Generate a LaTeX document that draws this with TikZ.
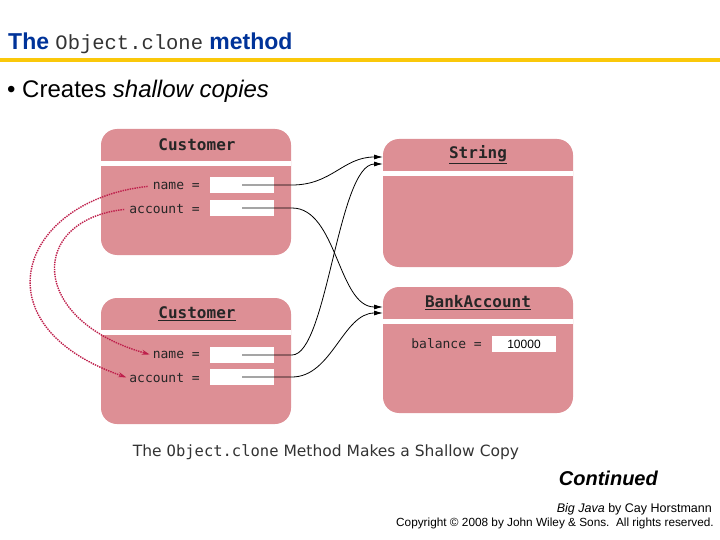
\documentclass[tikz,border=0pt]{standalone}
\usepackage{fontspec}
\setmainfont{Liberation Sans}
\setmonofont{Liberation Mono}
\newfontfamily\boxfont{DejaVu Sans Mono}
\newfontfamily\capfont{DejaVu Sans}
\usetikzlibrary{arrows.meta}
\definecolor{titleblue}{RGB}{0,51,153}
\definecolor{rulegold}{RGB}{250,200,10}
\definecolor{objpink}{RGB}{221,143,149}
\definecolor{refred}{RGB}{190,30,75}

\tikzset{
  hdr/.style={font=\boxfont\bfseries\fontsize{16}{16}\selectfont, text=black!85},
  fld/.style={font=\boxfont\fontsize{13}{13}\selectfont, anchor=east, inner sep=1pt, text=black!85},
  slot/.style={fill=white, minimum width=64pt, minimum height=16pt, inner sep=0pt},
  ptr/.style={black, line width=0.8pt, -{Latex[length=9pt,width=5pt]}},
  copyref/.style={refred, line width=1.4pt, densely dotted, -{Stealth[length=8pt,width=5pt]}},
}

\begin{document}
\begin{tikzpicture}[x=1pt,y=-1pt]
\useasboundingbox (0,0) rectangle (720,540);
% heading and rule
\node[anchor=base west, inner sep=0pt, text=titleblue, font=\bfseries\fontsize{23}{23}\selectfont] (title) at (8,50)
  {The {\mdseries\ttfamily\color{black!80}\fontsize{20.5}{20.5}\selectfont Object.clone} method};
\draw[rulegold, line width=4pt] (0,60) -- (720,60);
\node[anchor=base west, inner sep=0pt, font=\fontsize{24}{24}\selectfont] (point) at (7,98)
  {\textbullet\ Creates \textit{shallow copies}};

% the four objects
\foreach \bx/\by/\bh in {101/129/126,101/298/126,383/139/128,383/287/126}{
  \fill[objpink, rounded corners=16pt] (\bx,\by) rectangle (\bx+190,\by+\bh);
  \fill[white] (\bx,\by+32) rectangle (\bx+190,\by+37);
}
\node[hdr] (cust1) at (197,145) {Customer};
\node[hdr] (cust2) at (197,314) {\underline{Customer}};
\node[hdr] (str) at (478,155) {\underline{String}};
\node[hdr] (bank) at (478,303) {\underline{BankAccount}};

% fields
\node[fld] (name1) at (201,186) {name =};
\node[fld] (acct1) at (201,209) {account =};
\node[fld] (name2) at (201,355) {name =};
\node[fld] (acct2) at (201,378) {account =};
\node[fld] (bal) at (483,344) {balance =};
\node[slot] (nslot1) at (242,185) {};
\node[slot] (aslot1) at (242,208) {};
\node[slot] (nslot2) at (242,355) {};
\node[slot] (aslot2) at (242,377) {};
\node[slot, font=\fontsize{12}{12}\selectfont] (bslot) at (524,344) {10000};

% references
\coordinate (strin1) at (383,157);
\coordinate (strin2) at (383,164);
\coordinate (bankin1) at (383,307);
\coordinate (bankin2) at (383,313);
\draw[ptr] (nslot1.center) -- ++(50,0) .. controls +(40,0) and +(-40,0) .. (strin1);
\draw[ptr] (aslot1.center) -- ++(50,0) .. controls +(45,0) and +(-45,0) .. (bankin1);
\draw[ptr] (nslot2.center) -- ++(50,0) .. controls +(35,0) and +(-45,0) .. (strin2);
\draw[ptr] (aslot2.center) -- ++(50,0) .. controls +(40,0) and +(-40,0) .. (bankin2);

% copied fields
\draw[copyref, shorten <=4pt, shorten >=2pt] (name1.west) .. controls (20,200) and (-25,325) .. (acct2.west);
\draw[copyref, shorten <=4pt, shorten >=2pt] (acct1.west) .. controls (28,220) and (28,320) .. (name2.west);

% caption and footer
\node[font=\capfont\fontsize{15.5}{15.5}\selectfont, text=black!80] (caption) at (326,452)
  {The {\boxfont Object.clone} Method Makes a Shallow Copy};
\node[anchor=base east, inner sep=0pt, font=\bfseries\itshape\fontsize{20}{20}\selectfont] (cont) at (658,485) {Continued};
\node[anchor=base east, inner sep=0pt, font=\fontsize{12.5}{12.5}\selectfont] (book) at (712,512) {\textit{Big Java} by Cay Horstmann};
\node[anchor=base east, inner sep=0pt, font=\fontsize{11.8}{11.8}\selectfont] (rights) at (714,526)
  {Copyright \textcopyright{} 2008 by John Wiley \& Sons.\ \ All rights reserved.};
\end{tikzpicture}
\end{document}
